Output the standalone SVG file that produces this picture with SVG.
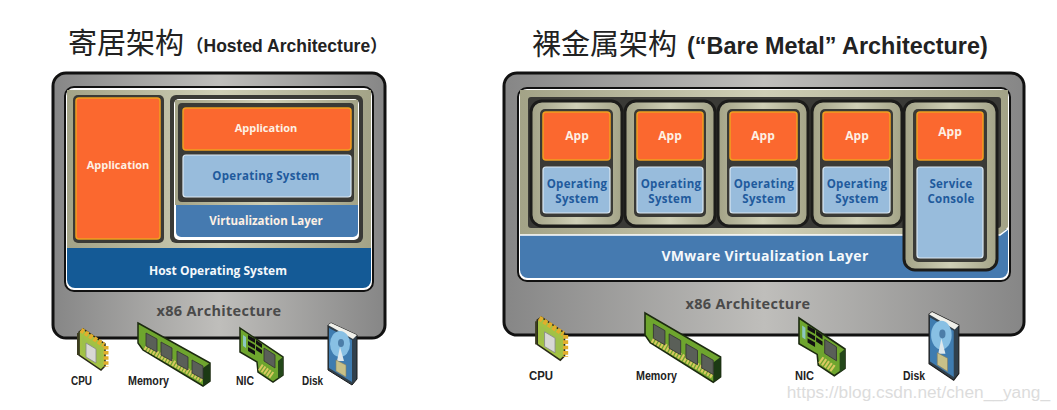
<svg xmlns="http://www.w3.org/2000/svg" xmlns:xlink="http://www.w3.org/1999/xlink" width="1057" height="410" viewBox="0 0 1057 410">
<style>
text{font-family:"Open Sans","DejaVu Sans","Noto Sans CJK SC",sans-serif;font-weight:700;text-anchor:middle}
.panel{fill:url(#gray);stroke:#111;stroke-width:3}
.white{fill:#fff;stroke:#111;stroke-width:2}
.olive{fill:url(#olive)}
.dark{fill:#3a3a36}
.app{fill:#fb682f;stroke:#f0a020;stroke-width:1.5}
.os{fill:#98bcdc;stroke:#dbe8f2;stroke-width:1.2}
.vm{fill:url(#olive);stroke:#1c1c1a;stroke-width:3}
.w{fill:#fdf0e4;font-size:11px}
.b{fill:#1f5a9c;font-size:11.5px;letter-spacing:.3px}
.lab{fill:#f4f8fb;font-size:12px}
.x86{fill:#4a4a4a;font-size:14.5px;letter-spacing:.3px}
.hw{fill:#222;font-family:"Liberation Sans",sans-serif;font-size:12.5px;text-anchor:start}
.title{fill:#222;text-anchor:start;font-family:"Noto Sans CJK SC",sans-serif;font-weight:400;font-size:29px}
.sub{fill:#222;text-anchor:start;font-family:"Liberation Sans","Noto Sans CJK SC",sans-serif;font-weight:700}
</style>
<defs>
<linearGradient id="gray" x1="0" x2="1" y1="0" y2="0"><stop offset="0" stop-color="#868686"/><stop offset=".5" stop-color="#bfbebb"/><stop offset="1" stop-color="#868686"/></linearGradient>
<linearGradient id="olive" x1="0" x2="1" y1="0" y2="0"><stop offset="0" stop-color="#a3a387"/><stop offset=".5" stop-color="#cfcfb6"/><stop offset="1" stop-color="#a3a387"/></linearGradient>
<g id="cpu">
<path d="M4 5L8 2L30 17V39L26 43L4 28Z" fill="#a3c244" stroke="#2a2a1a" stroke-width="1.5"/>
<path d="M6 3L29 18M31 19V40" fill="none" stroke="#e2ae2c" stroke-width="5" stroke-dasharray="3.5 1.6"/>
<path d="M3 6V28" fill="none" stroke="#3c3c20" stroke-width="2"/>
<path d="M7 10L26 23V37L7 24Z" fill="#9ec04a"/>
<path d="M11 16L21 22V36L11 30Z" fill="#d8d8d4" stroke="#888" stroke-width=".8"/>
</g>
<g id="mem">
<path d="M0 0L72 40V58L65 63L5 27L0 20Z" fill="#6ea52e" stroke="#1c2a10" stroke-width="1.5"/>
<path d="M7 24L65 57" fill="none" stroke="#d9c860" stroke-width="6" stroke-dasharray="2 1.2"/>
<path d="M72 40V58L65 63V45Z" fill="#1c3a14"/>
<path d="M8 10L19 16V29L8 23ZM23 19L34 25V38L23 32ZM39 28L50 34V47L39 41ZM54 37L65 43V56L54 50Z" fill="#5a5f58" stroke="#333" stroke-width=".8"/>
</g>
<g id="nic">
<path d="M0 0L43 29V47L33 54L18 44L17 34L0 24Z" fill="#6ea52e" stroke="#1c2a10" stroke-width="1.5"/>
<path d="M20 39L33 48" fill="none" stroke="#d9c860" stroke-width="7" stroke-dasharray="2 1.2"/>
<path d="M43 29V47L38 51V33Z" fill="#24471a"/>
<path d="M8 7L15 11V15L8 11ZM16 12L22 16V20L16 16ZM8 13L15 17V21L8 17ZM16 18L22 22V26L16 22ZM8 19L15 23V27L8 23Z" fill="#111"/>
<path d="M3 7L6 9V20L3 18Z" fill="#8cc8c0"/>
<path d="M24 20L35 27V40L24 33Z" fill="#5a5f58" stroke="#333" stroke-width=".8"/>
</g>
<g id="disk">
<path d="M0 2L3 0L29 12V56L24 62L0 47Z" fill="#31404c" stroke="#1a1a1a" stroke-width="1"/>
<path d="M0 2L3 0L29 12L25 16Z" fill="#f0f0ea"/>
<path d="M1 5L24 17V59L1 45Z" fill="#3f7cb0"/>
<ellipse cx="12" cy="21" rx="10" ry="13" fill="#88c0e4"/>
<ellipse cx="13" cy="20" rx="3" ry="4" fill="#4c7da8"/>
<path d="M12 24L16 38H9Z" fill="#dfe8ec"/>
<path d="M8 37L18 42V54L8 48Z" fill="#c8c088" stroke="#888060" stroke-width=".6"/>
</g>
</defs>
<rect width="1057" height="410" fill="#fff"/>
<g id="titles">
<text class="title" x="68" y="54">寄居架构</text>
<text class="sub" x="186" y="52" font-size="17.5">（Hosted Architecture）</text>
<text class="title" x="532" y="55">裸金属架构</text>
<text class="sub" x="687" y="54" font-size="23.4">(“Bare Metal” Architecture)</text>
</g>
<g id="hosted-machine">
<rect class="panel" x="53" y="73" width="332" height="265" rx="13"/>
<text class="x86" x="219" y="316">x86 Architecture</text>
</g>
<g id="host-os">
<rect class="white" x="65" y="87" width="308" height="204" rx="9"/>
<path d="M67 248H371V280a8 8 0 0 1-8 8H75a8 8 0 0 1-8-8Z" fill="#145a96"/>
<path d="M67 90H371V248H67Z" class="olive"/>
<text class="lab" x="218" y="275">Host Operating System</text>
</g>
<g id="host-app">
<rect class="dark" x="73" y="95" width="91" height="148" rx="5"/>
<rect class="app" x="76" y="98" width="84" height="141" rx="3"/>
<text class="w" x="118" y="169">Application</text>
</g>
<g id="hosted-vm">
<rect class="dark" x="170" y="95" width="193" height="148" rx="6"/>
<rect x="174" y="99" width="185" height="141" rx="5" fill="#fff"/>
<rect class="olive" x="175" y="100" width="183" height="105"/>
<rect class="dark" x="178" y="103" width="176" height="99" rx="4"/>
</g>
<g id="hosted-app"><rect class="app" x="183" y="108" width="168" height="42" rx="3"/><text class="w" x="266" y="132">Application</text></g>
<g id="hosted-os"><rect class="os" x="183" y="155" width="168" height="42" rx="3"/><text class="b" x="266" y="180">Operating System</text></g>
<g id="virtualization"><path d="M176 205H358V232a5 5 0 0 1-5 5H181a5 5 0 0 1-5-5Z" fill="#457ab0"/><text class="w" x="266" y="225" style="font-size:11.5px">Virtualization Layer</text></g>
<g id="hosted-cpu"><use xlink:href="#cpu" href="#cpu" x="75" y="327"/><text class="hw" x="71" y="385" textLength="21" lengthAdjust="spacingAndGlyphs">CPU</text></g>
<g id="hosted-memory"><use xlink:href="#mem" href="#mem" x="138" y="323"/><text class="hw" x="128" y="385" textLength="41" lengthAdjust="spacingAndGlyphs">Memory</text></g>
<g id="hosted-nic"><use xlink:href="#nic" href="#nic" x="240" y="328"/><text class="hw" x="236" y="385" textLength="18" lengthAdjust="spacingAndGlyphs">NIC</text></g>
<g id="hosted-disk"><use xlink:href="#disk" href="#disk" x="328" y="323"/><text class="hw" x="302" y="385" textLength="21" lengthAdjust="spacingAndGlyphs">Disk</text></g>

<g id="metal-machine">
<rect class="panel" x="504" y="73" width="520" height="262" rx="13"/>
<text class="x86" x="748" y="309">x86 Architecture</text>
</g>
<g id="vmware-layer">
<rect class="white" x="518" y="88" width="492" height="193" rx="9"/>
<path d="M520 229H1008V270a8 8 0 0 1-8 8H528a8 8 0 0 1-8-8Z" fill="#457ab0"/>
<path d="M520 90H1008V227L1000 235H520Z" class="olive"/>
<path d="M520 235H1000L1008 229" fill="none" stroke="#fff" stroke-width="1.5"/>
<rect class="dark" x="528" y="97" width="473" height="131" rx="3"/>
<text class="lab" x="765" y="261" style="font-size:14px;letter-spacing:.3px">VMware Virtualization Layer</text>
</g>
<g id="vm1"><rect class="vm" x="531" y="101" width="91" height="125" rx="11"/><rect class="dark" x="540" y="109" width="73" height="108" rx="5"/><rect class="app" x="543" y="112" width="67" height="48" rx="3"/><rect class="os" x="543" y="167" width="67" height="46" rx="3"/><text class="w" x="577" y="140" style="font-size:12px">App</text><text class="b" x="577" y="188">Operating</text><text class="b" x="577" y="203">System</text></g>
<g id="vm2"><rect class="vm" x="625" y="101" width="90" height="125" rx="11"/><rect class="dark" x="634" y="109" width="72" height="108" rx="5"/><rect class="app" x="637" y="112" width="66" height="48" rx="3"/><rect class="os" x="637" y="167" width="66" height="46" rx="3"/><text class="w" x="670" y="140" style="font-size:12px">App</text><text class="b" x="671" y="188">Operating</text><text class="b" x="670" y="203">System</text></g>
<g id="vm3"><rect class="vm" x="718" y="101" width="90" height="125" rx="11"/><rect class="dark" x="727" y="109" width="73" height="108" rx="5"/><rect class="app" x="730" y="112" width="67" height="48" rx="3"/><rect class="os" x="730" y="167" width="67" height="46" rx="3"/><text class="w" x="763" y="140" style="font-size:12px">App</text><text class="b" x="764" y="188">Operating</text><text class="b" x="764" y="203">System</text></g>
<g id="vm4"><rect class="vm" x="812" y="101" width="90" height="125" rx="11"/><rect class="dark" x="820" y="109" width="73" height="108" rx="5"/><rect class="app" x="823" y="112" width="67" height="48" rx="3"/><rect class="os" x="823" y="167" width="67" height="46" rx="3"/><text class="w" x="857" y="140" style="font-size:12px">App</text><text class="b" x="857" y="188">Operating</text><text class="b" x="857" y="203">System</text></g>
<g id="service-console"><rect class="vm" x="904" y="101" width="93" height="169" rx="11"/><rect class="dark" x="913" y="109" width="74" height="153" rx="5"/><rect class="app" x="917" y="112" width="66" height="48" rx="3"/><rect class="os" x="917" y="167" width="66" height="91" rx="3"/><text class="w" x="950" y="136" style="font-size:12px">App</text><text class="b" x="951" y="188">Service</text><text class="b" x="951" y="203">Console</text></g>
<g id="metal-cpu"><use xlink:href="#cpu" href="#cpu" transform="translate(533 315) scale(1.05)"/><text class="hw" x="529" y="380" textLength="24" lengthAdjust="spacingAndGlyphs">CPU</text></g>
<g id="metal-memory"><use xlink:href="#mem" href="#mem" transform="translate(645 313) scale(1.05 1.1)"/><text class="hw" x="636" y="380" textLength="41" lengthAdjust="spacingAndGlyphs">Memory</text></g>
<g id="metal-nic"><use xlink:href="#nic" href="#nic" transform="translate(799 318) scale(1.07)"/><text class="hw" x="795" y="380" textLength="19" lengthAdjust="spacingAndGlyphs">NIC</text></g>
<g id="metal-disk"><use xlink:href="#disk" href="#disk" transform="translate(929 312) scale(1.03 1.1)"/><text class="hw" x="903" y="380" textLength="22" lengthAdjust="spacingAndGlyphs">Disk</text></g>
<g id="watermark"><text x="1050" y="398" style="font-family:'Liberation Sans',sans-serif;font-weight:400;text-anchor:end;font-size:17.3px;fill:#dcdcdc">https://blog.csdn.net/chen__yang_</text></g>
</svg>
